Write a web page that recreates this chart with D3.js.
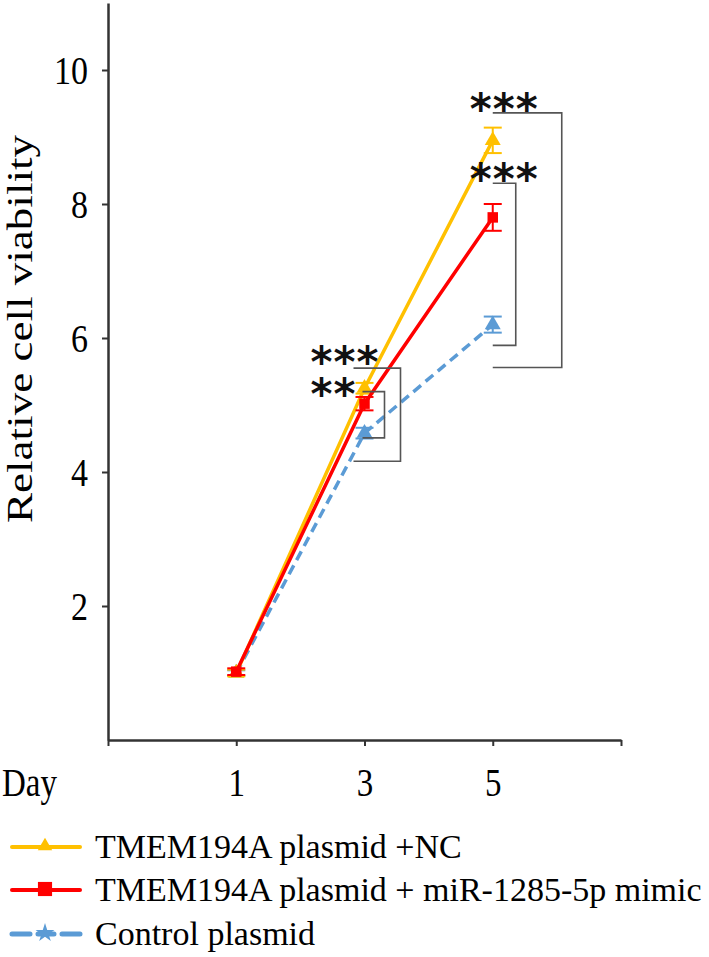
<!DOCTYPE html>
<html><head><meta charset="utf-8">
<script src="https://cdn.jsdelivr.net/npm/d3@7"></script>
<style>body{margin:0;background:#fff;} svg{display:block;}</style>
</head><body><svg id="c" width="709" height="957"></svg>
<script>
// ---- data ----
const days = ["1", "3", "5"];
const xSlots = ["", "1", "3", "5", ""];
const yTicks = [2, 4, 6, 8, 10];
const seriesNames = ["TMEM194A plasmid +NC", "TMEM194A plasmid + miR-1285-5p mimic", "Control plasmid"];
const valuesNC = [1.00, 5.25, 8.95];
const errorsNC = [0.05, 0.08, 0.19];
const valuesMimic = [1.02, 5.02, 7.80];
const errorsMimic = [0.05, 0.10, 0.20];
const valuesControl = [1.00, 4.58, 6.20];
const errorsControl = [0.04, 0.08, 0.12];
const sigLabels = ["***", "***", "***", "**"];
const sigDays = ["5", "5", "3", "3"];
const sigTop = [9.36, 8.31, 5.55, 5.20];
const sigBottom = [5.56, 5.89, 4.16, 4.51];

// ---- styles / layout ----
const serif = "'Liberation Serif','Times New Roman',serif";
const styles = [
  {color: "#FFC000", dash: null, symbol: d3.symbolTriangle, size: 110, legendSymbol: d3.symbolTriangle, legendSize: 90},
  {color: "#FF0000", dash: null, symbol: d3.symbolSquare, size: 110, legendSymbol: d3.symbolSquare, legendSize: 200},
  {color: "#5B9BD5", dash: "10,6", symbol: d3.symbolTriangle, size: 110, legendSymbol: d3.symbolStar, legendSize: 110}
];
const sigLayout = [
  {left: 0, right: 69, starX: -23, starUp: 14},
  {left: 0, right: 23, starX: -23, starUp: 14},
  {left: -11, right: 36, starX: -54, starUp: 16},
  {left: -2, right: 20, starX: -54, starUp: 8}
];

const svg = d3.select("#c");
const x = d3.scaleLinear().domain([0, 4]).range([108, 621]);
const y = d3.scaleLinear().domain([0, 11]).range([740, 3]);
const dayX = d => x(xSlots.indexOf(d));

// y axis
const gy = svg.append("g").attr("transform", `translate(${x(0)},0)`)
  .call(d3.axisLeft(y).tickValues(yTicks).tickSize(6).tickSizeOuter(0).tickFormat(d3.format("d")));
gy.select(".domain").attr("stroke", "#333").attr("stroke-width", 2.5);
gy.selectAll(".tick line").attr("stroke", "#333").attr("stroke-width", 2);
gy.selectAll(".tick text").attr("x", -20).attr("y", 11).attr("dy", 0)
  .attr("font-family", serif).attr("font-size", 34).attr("fill", "#000")
  .attr("transform", "scale(1,1.2)");

// x axis
const gx = svg.append("g").attr("transform", `translate(0,${y(0)})`)
  .call(d3.axisBottom(x).tickValues([0, 1, 2, 3, 4]).tickSize(6).tickSizeOuter(0).tickFormat(i => xSlots[i]));
gx.select(".domain").attr("stroke", "#333").attr("stroke-width", 2.5);
gx.selectAll(".tick line").attr("stroke", "#333").attr("stroke-width", 2);
gx.selectAll(".tick text").attr("y", 46.5).attr("dy", 0)
  .attr("font-family", serif).attr("font-size", 33).attr("fill", "#000")
  .attr("transform", "scale(1,1.2)");

svg.append("text").attr("x", 2).attr("y", 0).attr("font-family", serif).attr("font-size", 33)
  .attr("transform", `translate(0,${y(0) + 56}) scale(1,1.2)`).text("Day");

// y label
svg.append("text").attr("font-family", serif).attr("font-size", 35)
  .attr("text-anchor", "middle")
  .attr("textLength", 388).attr("lengthAdjust", "spacingAndGlyphs")
  .attr("transform", `translate(32,${(135 + 523) / 2}) rotate(-90)`)
  .text("Relative cell viability");

// series
const order = [2, 0, 1];
const line = d3.line().x(d => dayX(d.day)).y(d => y(d.v));
order.forEach(si => {
  const vals = [valuesNC, valuesMimic, valuesControl][si];
  const errs = [errorsNC, errorsMimic, errorsControl][si];
  const st = styles[si];
  const pts = days.map((d, i) => ({day: d, v: vals[i], e: errs[i]}));
  const g = svg.append("g");
  g.append("path").datum(pts).attr("d", line).attr("fill", "none")
    .attr("stroke", st.color).attr("stroke-width", 3.5)
    .attr("stroke-dasharray", st.dash);
  const eb = g.selectAll(".eb").data(pts).join("g");
  eb.append("line").attr("x1", d => dayX(d.day)).attr("x2", d => dayX(d.day))
    .attr("y1", d => y(d.v + d.e)).attr("y2", d => y(d.v - d.e))
    .attr("stroke", st.color).attr("stroke-width", 2);
  [1, -1].forEach(s => {
    eb.append("line").attr("x1", d => dayX(d.day) - 9).attr("x2", d => dayX(d.day) + 9)
      .attr("y1", d => y(d.v + s * d.e)).attr("y2", d => y(d.v + s * d.e))
      .attr("stroke", st.color).attr("stroke-width", 2);
  });
  g.selectAll(".m").data(pts).join("path")
    .attr("transform", d => `translate(${dayX(d.day)},${y(d.v)})`)
    .attr("d", d3.symbol().type(st.symbol).size(st.size))
    .attr("fill", st.color);
});

// significance brackets
sigLabels.forEach((lab, i) => {
  const cx = dayX(sigDays[i]);
  const L = sigLayout[i];
  const yt = y(sigTop[i]), yb = y(sigBottom[i]);
  svg.append("path")
    .attr("d", `M${cx + L.left},${yt}H${cx + L.right}V${yb}H${cx + L.left}`)
    .attr("fill", "none").attr("stroke", "#555").attr("stroke-width", 1.6);
  svg.append("text").attr("x", cx + L.starX).attr("y", yt - L.starUp + 25)
    .attr("font-family", "'DejaVu Sans',sans-serif").attr("font-weight", "bold").attr("font-size", 42)
    .attr("letter-spacing", 1).attr("fill", "#111").text(lab);
});

// legend
const legY = [847, 890, 934];
seriesNames.forEach((name, i) => {
  const st = styles[i];
  const g = svg.append("g").attr("transform", `translate(0,${legY[i]})`);
  g.append("line").attr("x1", 12).attr("x2", 80).attr("y1", 0).attr("y2", 0)
    .attr("stroke", st.color).attr("stroke-width", st.dash ? 5 : 4)
    .attr("stroke-dasharray", st.dash ? "18,8,16,8,18" : null)
    .attr("stroke-linecap", "round");
  g.append("path").attr("transform", "translate(45,-1)")
    .attr("d", d3.symbol().type(st.legendSymbol).size(st.legendSize)).attr("fill", st.color);
  g.append("text").attr("x", 95).attr("y", 11).attr("font-family", serif)
    .attr("font-size", 34).attr("fill", "#000").text(name);
});
</script></body></html>
